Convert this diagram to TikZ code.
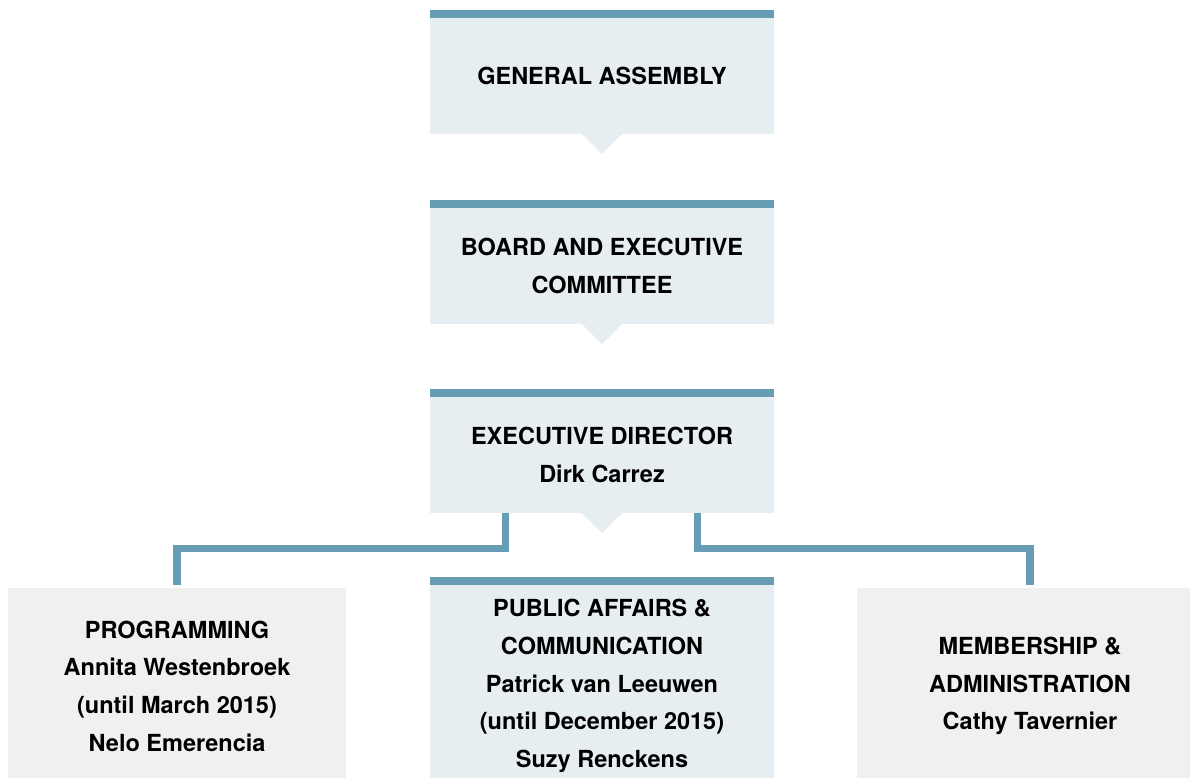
\documentclass[tikz,border=0pt]{standalone}
\usepackage{fontspec}
\setmainfont{TeX Gyre Heros}
\definecolor{barblue}{HTML}{669CB4}
\definecolor{paleblue}{HTML}{E7EEF2}
\definecolor{palegray}{HTML}{F0F0F0}
\begin{document}
\begin{tikzpicture}[x=1pt,y=-1pt,
           box_style/.style={rectangle,fill=paleblue,inner sep=0pt,minimum width=344pt,
               align=center,font=\fontsize{23.5}{37.7}\selectfont\bfseries},
           side_style/.style={box_style,fill=palegray,minimum height=196pt},
           bar_style/.style={fill=barblue},
           link_style/.style={draw=barblue,line width=7.5pt,miter limit=10}]
            \useasboundingbox (0,0) rectangle (1190,778);
            \clip (0,0) rectangle (1190,778);
            \node[box_style,minimum height=116pt] (assembly) at (602, 76)  {GENERAL ASSEMBLY};
            \node[box_style,minimum height=116pt] (board) at (602, 266)  {BOARD AND EXECUTIVE\\COMMITTEE};
            \node[box_style,minimum height=116pt] (director) at (602, 455)  {EXECUTIVE DIRECTOR\\Dirk Carrez};
            \node[side_style,minimum width=338pt] (programming) at (177, 686)  {PROGRAMMING\\Annita Westenbroek\\(until March 2015)\\Nelo Emerencia};
            \node[box_style,minimum height=202pt] (public) at (602, 686)  {PUBLIC AFFAIRS \&\\COMMUNICATION\\Patrick van Leeuwen\\(until December 2015)\\Suzy Renckens};
            \node[side_style,minimum width=346pt] (membership) at (1030, 686)  {MEMBERSHIP \&\\ADMINISTRATION\\Cathy Tavernier};
            \foreach \n in {assembly,board,director,public}
                \fill[bar_style] (\n.north west) rectangle ([yshift=8pt]\n.north east);
            \foreach \n in {assembly,board,director}
                \fill[paleblue] ([xshift=-20pt]\n.south) -- ([yshift=-20pt]\n.south) -- ([xshift=20pt]\n.south) -- cycle;
            \draw[link_style]  ([xshift=-96.5pt]director.south) |- ([yshift=39.5pt]programming.north) -- ([yshift=3pt]programming.north);
            \draw[link_style]  ([xshift=95.5pt]director.south) |- ([yshift=39.5pt]membership.north) -- ([yshift=3pt]membership.north);
        \end{tikzpicture}
\end{document}
